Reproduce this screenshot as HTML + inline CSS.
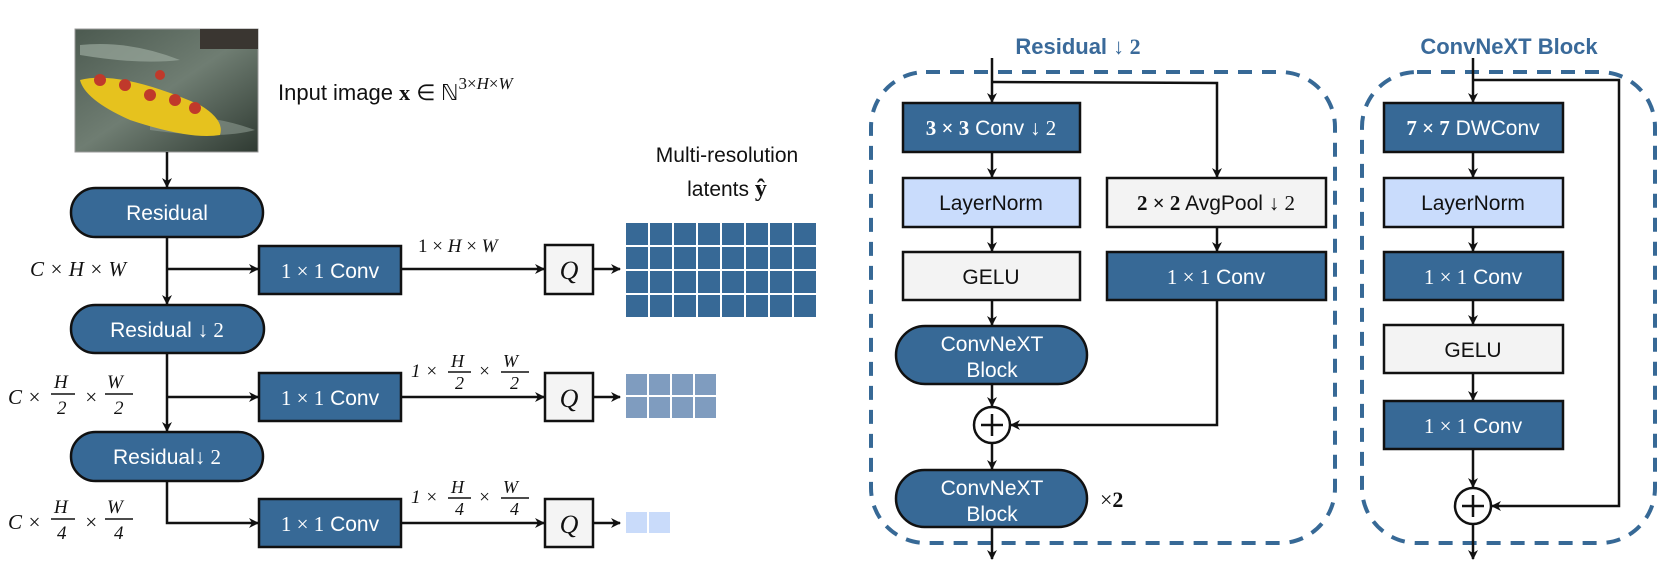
<!DOCTYPE html>
<html><head><meta charset="utf-8"><style>
html,body{margin:0;padding:0;background:#fff;}
svg{display:block;}
.t{font-family:"Liberation Sans",sans-serif;font-size:21px;fill:#fff;text-anchor:middle;}
.k{fill:#111;}
.m{font-family:"Liberation Serif",serif;font-style:italic;}
.mr{font-family:"Liberation Serif",serif;}
.bx{stroke:#111;stroke-width:2.5;}
.ln{stroke:#111;stroke-width:2.5;fill:none;}
</style></head><body>
<svg width="1660" height="581" viewBox="0 0 1660 581" xmlns="http://www.w3.org/2000/svg">
<defs>
<marker id="a" markerWidth="10" markerHeight="10" refX="9" refY="5" orient="auto" markerUnits="userSpaceOnUse">
<path d="M0,0 L10,5 L0,10 L3,5 z" fill="#111"/></marker>
<linearGradient id="img" x1="0" y1="0" x2="1" y2="1">
<stop offset="0" stop-color="#4c5a50"/><stop offset="0.5" stop-color="#6f7d72"/><stop offset="1" stop-color="#2f3a32"/></linearGradient>
</defs>

<!-- image -->
<rect x="75" y="29" width="183" height="123" fill="url(#img)" stroke="#999" stroke-width="1"/>
<path d="M80,45 Q130,40 180,60 Q140,65 80,55z" fill="#9aa89c" opacity="0.7"/>
<path d="M150,120 Q200,110 255,130 Q220,140 150,130z" fill="#8c998f" opacity="0.6"/>
<path d="M80,80 Q120,70 200,105 Q225,120 220,135 Q190,140 130,120 Q85,100 80,80z" fill="#e6c21e"/>
<circle cx="100" cy="80" r="6" fill="#c0392b"/><circle cx="125" cy="85" r="6" fill="#c0392b"/><circle cx="150" cy="95" r="6" fill="#c0392b"/><circle cx="175" cy="100" r="6" fill="#c0392b"/><circle cx="195" cy="108" r="6" fill="#c0392b"/><circle cx="160" cy="75" r="5" fill="#c0392b"/>
<rect x="200" y="29" width="58" height="20" fill="#3a3631"/>

<text x="278" y="100" font-family="Liberation Sans,sans-serif" font-size="22" fill="#111">Input image <tspan class="mr" font-weight="bold">x</tspan> <tspan class="mr">∈ ℕ</tspan><tspan class="mr" font-size="17" dy="-11">3×</tspan><tspan class="m" font-size="17">H</tspan><tspan class="mr" font-size="17">×</tspan><tspan class="m" font-size="17">W</tspan></text>

<line class="ln" x1="167" y1="152" x2="167" y2="187" marker-end="url(#a)"/>
<rect class="bx" x="71" y="188" width="192" height="49" rx="24.5" fill="#376996"/>
<text class="t" x="167" y="220">Residual</text>

<line class="ln" x1="167" y1="237" x2="167" y2="304" marker-end="url(#a)"/>
<line class="ln" x1="167" y1="269" x2="258" y2="269" marker-end="url(#a)"/>
<text x="30" y="276" font-size="21" class="m" fill="#111">C <tspan class="mr">×</tspan> H <tspan class="mr">×</tspan> W</text>
<rect class="bx" x="259" y="246" width="142" height="48" fill="#376996"/>
<text class="t" x="330" y="278" font-size="22"><tspan class="mr">1 × 1</tspan> Conv</text>
<line class="ln" x1="401" y1="269" x2="544" y2="269" marker-end="url(#a)"/>
<text x="418" y="252" font-size="19" class="mr" fill="#111">1 × <tspan class="m">H</tspan> × <tspan class="m">W</tspan></text>
<rect class="bx" x="545" y="245" width="48" height="49" fill="#f4f4f4"/>
<text x="569" y="279" font-size="26" class="m" fill="#111" text-anchor="middle">Q</text>
<line class="ln" x1="593" y1="269" x2="620" y2="269" marker-end="url(#a)"/>
<g fill="#376996">
<g id="row"><rect x="626" y="223" width="22" height="22"/><rect x="650" y="223" width="22" height="22"/><rect x="674" y="223" width="22" height="22"/><rect x="698" y="223" width="22" height="22"/><rect x="722" y="223" width="22" height="22"/><rect x="746" y="223" width="22" height="22"/><rect x="770" y="223" width="22" height="22"/><rect x="794" y="223" width="22" height="22"/></g>
<use href="#row" y="24"/><use href="#row" y="48"/><use href="#row" y="72"/>
</g>
<text x="727" y="162" font-family="Liberation Sans,sans-serif" font-size="21" fill="#111" text-anchor="middle">Multi-resolution</text>
<text x="727" y="196" font-family="Liberation Sans,sans-serif" font-size="21" fill="#111" text-anchor="middle">latents <tspan class="mr" font-weight="bold" font-size="24">ŷ</tspan></text>

<rect class="bx" x="71" y="305" width="193" height="48" rx="24" fill="#376996"/>
<text class="t" x="167" y="337" font-size="22">Residual <tspan class="mr">↓ 2</tspan></text>
<line class="ln" x1="167" y1="353" x2="167" y2="431" marker-end="url(#a)"/>
<line class="ln" x1="167" y1="397" x2="258" y2="397" marker-end="url(#a)"/>
<g class="m" fill="#111" font-size="21">
<text x="8" y="404">C <tspan class="mr">×</tspan></text>
<text x="54" y="388" font-size="19">H</text><line x1="51" y1="394" x2="75" y2="394" stroke="#111" stroke-width="1.5"/><text x="57" y="414" font-size="19" class="mr">2</text>
<text x="84" y="404" class="mr">×</text>
<text x="107" y="388" font-size="19">W</text><line x1="105" y1="394" x2="133" y2="394" stroke="#111" stroke-width="1.5"/><text x="114" y="414" font-size="19" class="mr">2</text>
</g>
<rect class="bx" x="259" y="373" width="142" height="48" fill="#376996"/>
<text class="t" x="330" y="405" font-size="22"><tspan class="mr">1 × 1</tspan> Conv</text>
<line class="ln" x1="401" y1="397" x2="544" y2="397" marker-end="url(#a)"/>
<g class="m" fill="#111" font-size="18">
<text x="411" y="377" class="mr" font-size="19">1 ×</text>
<text x="451" y="367">H</text><line x1="448" y1="372" x2="471" y2="372" stroke="#111" stroke-width="1.4"/><text x="455" y="389" class="mr">2</text>
<text x="478" y="377" class="mr" font-size="19">×</text>
<text x="503" y="367">W</text><line x1="501" y1="372" x2="529" y2="372" stroke="#111" stroke-width="1.4"/><text x="510" y="389" class="mr">2</text>
</g>
<rect class="bx" x="545" y="373" width="48" height="48" fill="#f4f4f4"/>
<text x="569" y="407" font-size="26" class="m" fill="#111" text-anchor="middle">Q</text>
<line class="ln" x1="593" y1="397" x2="620" y2="397" marker-end="url(#a)"/>
<g fill="#7f9cbf">
<rect x="626" y="374" width="21" height="21"/><rect x="649" y="374" width="21" height="21"/><rect x="672" y="374" width="21" height="21"/><rect x="695" y="374" width="21" height="21"/>
<rect x="626" y="397" width="21" height="21"/><rect x="649" y="397" width="21" height="21"/><rect x="672" y="397" width="21" height="21"/><rect x="695" y="397" width="21" height="21"/>
</g>

<rect class="bx" x="71" y="432" width="192" height="49" rx="24.5" fill="#376996"/>
<text class="t" x="167" y="464" font-size="22">Residual<tspan class="mr">↓ 2</tspan></text>
<path class="ln" d="M167,481 L167,523 L258,523" marker-end="url(#a)"/>
<g class="m" fill="#111" font-size="21">
<text x="8" y="529">C <tspan class="mr">×</tspan></text>
<text x="54" y="513" font-size="19">H</text><line x1="51" y1="519" x2="75" y2="519" stroke="#111" stroke-width="1.5"/><text x="57" y="539" font-size="19" class="mr">4</text>
<text x="84" y="529" class="mr">×</text>
<text x="107" y="513" font-size="19">W</text><line x1="105" y1="519" x2="133" y2="519" stroke="#111" stroke-width="1.5"/><text x="114" y="539" font-size="19" class="mr">4</text>
</g>
<rect class="bx" x="259" y="499" width="142" height="48" fill="#376996"/>
<text class="t" x="330" y="531" font-size="22"><tspan class="mr">1 × 1</tspan> Conv</text>
<line class="ln" x1="401" y1="523" x2="544" y2="523" marker-end="url(#a)"/>
<g class="m" fill="#111" font-size="18">
<text x="411" y="503" class="mr" font-size="19">1 ×</text>
<text x="451" y="493">H</text><line x1="448" y1="498" x2="471" y2="498" stroke="#111" stroke-width="1.4"/><text x="455" y="515" class="mr">4</text>
<text x="478" y="503" class="mr" font-size="19">×</text>
<text x="503" y="493">W</text><line x1="501" y1="498" x2="529" y2="498" stroke="#111" stroke-width="1.4"/><text x="510" y="515" class="mr">4</text>
</g>
<rect class="bx" x="545" y="499" width="48" height="48" fill="#f4f4f4"/>
<text x="569" y="533" font-size="26" class="m" fill="#111" text-anchor="middle">Q</text>
<line class="ln" x1="593" y1="523" x2="620" y2="523" marker-end="url(#a)"/>
<rect x="626" y="512" width="21" height="21" fill="#c9dbfa"/><rect x="649" y="512" width="21" height="21" fill="#c9dbfa"/>

<!-- Residual down 2 detail -->
<text x="1078" y="54" font-family="Liberation Sans,sans-serif" font-size="22" font-weight="bold" fill="#3a6a9a" text-anchor="middle">Residual <tspan class="mr">↓ 2</tspan></text>
<rect x="871" y="72" width="464" height="471" rx="55" fill="none" stroke="#376996" stroke-width="4" stroke-dasharray="14,10"/>
<line class="ln" x1="992" y1="58" x2="992" y2="102" marker-end="url(#a)"/>
<path class="ln" d="M992,82 L1217,83 L1217,177" marker-end="url(#a)"/>
<rect class="bx" x="903" y="103" width="177" height="49" fill="#376996"/>
<text class="t" x="991" y="135" font-size="22"><tspan class="mr" font-weight="bold">3 × 3</tspan> Conv <tspan class="mr">↓ 2</tspan></text>
<line class="ln" x1="992" y1="152" x2="992" y2="177" marker-end="url(#a)"/>
<rect class="bx" x="903" y="178" width="177" height="49" fill="#c9dcfc"/>
<text class="t k" x="991" y="210" font-size="22">LayerNorm</text>
<line class="ln" x1="992" y1="227" x2="992" y2="251" marker-end="url(#a)"/>
<rect class="bx" x="903" y="252" width="177" height="48" fill="#f3f3f3"/>
<text class="t k" x="991" y="284" font-size="22">GELU</text>
<line class="ln" x1="992" y1="300" x2="992" y2="325" marker-end="url(#a)"/>
<rect class="bx" x="896" y="326" width="191" height="58" rx="29" fill="#376996"/>
<text class="t" x="992" y="351">ConvNeXT</text><text class="t" x="992" y="377">Block</text>
<line class="ln" x1="992" y1="384" x2="992" y2="406" marker-end="url(#a)"/>
<circle cx="992" cy="425" r="18" fill="#fff" stroke="#111" stroke-width="2.5"/>
<path d="M981,425 H1003 M992,414 V436" stroke="#111" stroke-width="2.5"/>
<line class="ln" x1="992" y1="443" x2="992" y2="469" marker-end="url(#a)"/>
<rect class="bx" x="896" y="470" width="191" height="57" rx="28.5" fill="#376996"/>
<text class="t" x="992" y="495">ConvNeXT</text><text class="t" x="992" y="521">Block</text>
<text x="1100" y="507" font-size="22" class="mr" fill="#111">×<tspan font-weight="bold">2</tspan></text>
<line class="ln" x1="992" y1="527" x2="992" y2="559" marker-end="url(#a)"/>
<rect class="bx" x="1107" y="178" width="219" height="49" fill="#f3f3f3"/>
<text class="t k" x="1216" y="210" font-size="22"><tspan class="mr" font-weight="bold">2 × 2</tspan> AvgPool <tspan class="mr">↓ 2</tspan></text>
<line class="ln" x1="1217" y1="227" x2="1217" y2="251" marker-end="url(#a)"/>
<rect class="bx" x="1107" y="252" width="219" height="48" fill="#376996"/>
<text class="t" x="1216" y="284" font-size="22"><tspan class="mr">1 × 1</tspan> Conv</text>
<path class="ln" d="M1217,300 L1217,425 L1011,425" marker-end="url(#a)"/>

<!-- ConvNeXT block detail -->
<text x="1509" y="54" font-family="Liberation Sans,sans-serif" font-size="22" font-weight="bold" fill="#3a6a9a" text-anchor="middle">ConvNeXT Block</text>
<rect x="1362" y="72" width="293" height="471" rx="55" fill="none" stroke="#376996" stroke-width="4" stroke-dasharray="14,10"/>
<line class="ln" x1="1473" y1="58" x2="1473" y2="102" marker-end="url(#a)"/>
<path class="ln" d="M1473,80 L1619,80 L1619,506 L1492,506" marker-end="url(#a)"/>
<rect class="bx" x="1384" y="103" width="179" height="49" fill="#376996"/>
<text class="t" x="1473" y="135" font-size="22"><tspan class="mr" font-weight="bold">7 × 7</tspan> DWConv</text>
<line class="ln" x1="1473" y1="152" x2="1473" y2="177" marker-end="url(#a)"/>
<rect class="bx" x="1384" y="178" width="179" height="49" fill="#c9dcfc"/>
<text class="t k" x="1473" y="210" font-size="22">LayerNorm</text>
<line class="ln" x1="1473" y1="227" x2="1473" y2="251" marker-end="url(#a)"/>
<rect class="bx" x="1384" y="252" width="179" height="48" fill="#376996"/>
<text class="t" x="1473" y="284" font-size="22"><tspan class="mr">1 × 1</tspan> Conv</text>
<line class="ln" x1="1473" y1="300" x2="1473" y2="324" marker-end="url(#a)"/>
<rect class="bx" x="1384" y="325" width="179" height="48" fill="#f3f3f3"/>
<text class="t k" x="1473" y="357" font-size="22">GELU</text>
<line class="ln" x1="1473" y1="373" x2="1473" y2="400" marker-end="url(#a)"/>
<rect class="bx" x="1384" y="401" width="179" height="48" fill="#376996"/>
<text class="t" x="1473" y="433" font-size="22"><tspan class="mr">1 × 1</tspan> Conv</text>
<line class="ln" x1="1473" y1="449" x2="1473" y2="487" marker-end="url(#a)"/>
<circle cx="1473" cy="506" r="18" fill="#fff" stroke="#111" stroke-width="2.5"/>
<path d="M1462,506 H1484 M1473,495 V517" stroke="#111" stroke-width="2.5"/>
<line class="ln" x1="1473" y1="524" x2="1473" y2="559" marker-end="url(#a)"/>
</svg>
</body></html>
